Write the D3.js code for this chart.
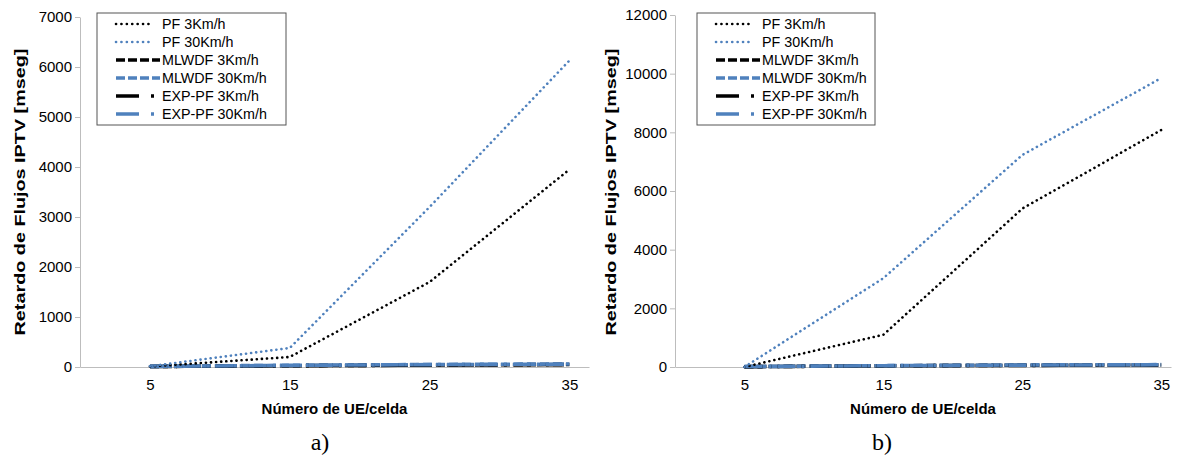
<!DOCTYPE html>
<html>
<head>
<meta charset="utf-8">
<script src="https://cdn.jsdelivr.net/npm/d3@7"></script>
<style>
  body { margin: 0; background: #fff; }
  svg { display: block; }
</style>
</head>
<body>
<div id="container"></div>
<script>
// categorías (Número de UE/celda)
const ues = [5, 15, 25, 35];
const xTicks = [5, 15, 25, 35];

// nombres de las series (leyenda)
const seriesNames = ["PF 3Km/h", "PF 30Km/h", "MLWDF 3Km/h", "MLWDF 30Km/h", "EXP-PF 3Km/h", "EXP-PF 30Km/h"];

// a) valores [mseg]
const pf3A     = [10, 200, 1700, 3950];
const pf30A    = [15, 380, 3200, 6130];
const mlwdf3A  = [10, 25, 40, 50];
const mlwdf30A = [12, 35, 50, 60];
const exp3A    = [10, 25, 38, 48];
const exp30A   = [12, 32, 48, 58];
const yTicksA  = [0, 1000, 2000, 3000, 4000, 5000, 6000, 7000];

// b) valores [mseg]
const pf3B     = [0, 1100, 5400, 8080];
const pf30B    = [0, 3030, 7230, 9850];
const mlwdf3B  = [10, 40, 60, 70];
const mlwdf30B = [15, 45, 70, 80];
const exp3B    = [10, 40, 55, 65];
const exp30B   = [15, 45, 65, 75];
const yTicksB  = [0, 2000, 4000, 6000, 8000, 10000, 12000];

const black = "#000000", blue = "#4f81bd";
const styles = [
  { color: black, width: 2.6, dash: "0.1 5", cap: "round", leg: "0.1 5.3" },
  { color: blue,  width: 2.6, dash: "0.1 5", cap: "round", leg: "0.1 5.3" },
  { color: black, width: 3.6, dash: "9 4", cap: "butt", leg: "9 3" },
  { color: blue,  width: 3.6, dash: "9 4", cap: "butt", leg: "9 3" },
  { color: black, width: 3.6, dash: "18 6 3 6", cap: "butt", leg: "23 12 3 20" },
  { color: blue,  width: 3.6, dash: "18 6 3 6", cap: "butt", leg: "23 12 3 20" }
];
const font = "'Liberation Sans', Arial, sans-serif";

const svg = d3.select("#container").append("svg")
  .attr("width", 1177).attr("height", 455);

function chart(cfg) {
  const x = d3.scaleLinear().domain([0, cfg.xMax]).range(cfg.xRange);
  const y = d3.scaleLinear().domain([0, cfg.yMax]).range([367, cfg.yTop]);
  const g = svg.append("g");

  // eje y
  const yAxis = g.append("g")
    .attr("transform", "translate(" + cfg.xRange[0] + ",0)")
    .call(d3.axisLeft(y).tickValues(cfg.yTicks).tickFormat(d3.format("d"))
      .tickSize(5).tickPadding(3).tickSizeOuter(0));
  yAxis.select(".domain").attr("stroke", "#bdbdbd");
  yAxis.selectAll(".tick line").attr("stroke", "#bdbdbd");
  yAxis.selectAll("text").style("font-family", font).style("font-size", "15px").attr("fill", "#000");

  // eje x
  const xAxis = g.append("g")
    .attr("transform", "translate(0,367)")
    .call(d3.axisBottom(x).tickValues(xTicks).tickSize(0).tickPadding(12).tickSizeOuter(0));
  xAxis.select(".domain").attr("stroke", "#bdbdbd");
  xAxis.selectAll("text").style("font-family", font).style("font-size", "15px").attr("fill", "#000");

  // títulos (el título del eje y aparece estirado en el original)
  g.append("text")
    .attr("transform", "translate(" + cfg.yTitleX + ",192) rotate(-90) scale(1.32,1)")
    .attr("text-anchor", "middle")
    .style("font-family", font).style("font-size", "15px").style("font-weight", "bold")
    .text("Retardo de Flujos IPTV [mseg]");
  g.append("text")
    .attr("x", (cfg.xRange[0] + cfg.xRange[1]) / 2).attr("y", 414)
    .attr("text-anchor", "middle")
    .style("font-family", font).style("font-size", "15px").style("font-weight", "bold")
    .text("Número de UE/celda");
  g.append("text")
    .attr("x", cfg.labelX).attr("y", 450)
    .attr("text-anchor", "middle")
    .style("font-family", "'Liberation Serif', 'DejaVu Serif', serif").style("font-size", "24px")
    .text(cfg.label);

  // líneas
  const line = d3.line().x((d, i) => x(ues[i])).y(d => y(d));
  // primero las series cercanas a cero, luego PF
  const order = [2, 3, 4, 5, 0, 1];
  order.forEach(k => {
    const s = styles[k];
    g.append("path")
      .datum(cfg.series[k])
      .attr("d", line)
      .attr("fill", "none")
      .attr("stroke", s.color)
      .attr("stroke-width", s.width)
      .attr("stroke-dasharray", s.dash)
      .attr("stroke-linecap", s.cap)
      .attr("stroke-linejoin", "round");
  });

  // leyenda
  const lg = g.append("g").attr("transform", "translate(" + cfg.legX + ",13)");
  lg.append("rect")
    .attr("x", 0).attr("y", 0).attr("width", cfg.legW).attr("height", 112)
    .attr("fill", "#fff").attr("stroke", "#555").attr("stroke-width", 1);
  seriesNames.forEach((name, i) => {
    const s = styles[i];
    const yy = 11 + i * 18;
    lg.append("line")
      .attr("x1", 19).attr("x2", i < 2 ? 56 : 63).attr("y1", yy).attr("y2", yy)
      .attr("stroke", s.color)
      .attr("stroke-width", s.width)
      .attr("stroke-dasharray", s.leg)
      .attr("stroke-linecap", s.cap);
    lg.append("text")
      .attr("x", cfg.legTextX).attr("y", yy + 5)
      .style("font-family", font).style("font-size", "14.3px")
      .text(name);
  });
}

chart({
  xMax: 36.4, xRange: [80, 589], yMax: 7000, yTop: 17, yTicks: yTicksA,
  yTitleX: 25, labelX: 320, label: "a)",
  legX: 97, legW: 189, legTextX: 65,
  series: [pf3A, pf30A, mlwdf3A, mlwdf30A, exp3A, exp30A]
});
chart({
  xMax: 35.7, xRange: [675, 1171], yMax: 12000, yTop: 15, yTicks: yTicksB,
  yTitleX: 616, labelX: 882, label: "b)",
  legX: 697, legW: 178, legTextX: 65,
  series: [pf3B, pf30B, mlwdf3B, mlwdf30B, exp3B, exp30B]
});
</script>
</body>
</html>
